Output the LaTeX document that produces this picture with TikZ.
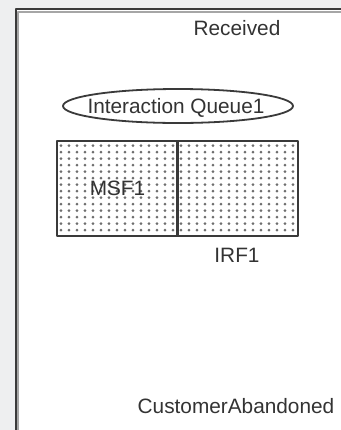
\documentclass[tikz,border=0pt]{standalone}
\usepackage{fontspec}
\setmainfont{Liberation Sans}
\usetikzlibrary{shapes.geometric}
\definecolor{panelgray}{HTML}{EEEFF0}
\definecolor{edgegray}{HTML}{3A3A3A}
\definecolor{inkgray}{HTML}{333333}
\definecolor{dotgray}{HTML}{6E6E6E}
\begin{document}
\begin{tikzpicture}[x=0.5pt,y=-0.5pt,line cap=round,line join=round,
    font=\fontsize{10.4}{12}\selectfont,text=inkgray,
    lbl/.style={inner sep=0pt,anchor=base},
    cellbox/.style={draw=edgegray,line width=1pt,minimum width=60.25pt,minimum height=47.5pt,inner sep=0pt}]
  \useasboundingbox (0,0) rectangle (341,430);
  % panel and frame
  \fill[panelgray] (0,0) rectangle (341,430);
  \fill[white] (16,9) rectangle (345,435);
  \draw[edgegray!45,line width=1pt] (18.5,440) -- (18.5,11.5) -- (350,11.5);
  \draw[edgegray,line width=1.2pt] (16,440) -- (16,9) -- (350,9);
  % dotted fill of the two cells
  \foreach \row in {0,...,13}
    \foreach \col in {0,...,29}
      \fill[dotgray] (61+8*\col,145.5+6.5*\row) circle (0.75pt);
  \node[lbl] (recv) at (237,35) {Received};
  \node[draw=edgegray,line width=0.9pt,ellipse,minimum width=115pt,minimum height=17pt,inner sep=0pt] (queue) at (178,106) {};
  \node[lbl] (qtext) at (176,113) {Interaction Queue1};
  \node[cellbox] (msf) at (117.5,188.5) {MSF1};
  \node[cellbox] (irf) at (237.5,188.5) {};
  \node[lbl] (irflbl) at (237,262) {IRF1};
  \node[lbl] (aband) at (236,413) {CustomerAbandoned};
\end{tikzpicture}
\end{document}
